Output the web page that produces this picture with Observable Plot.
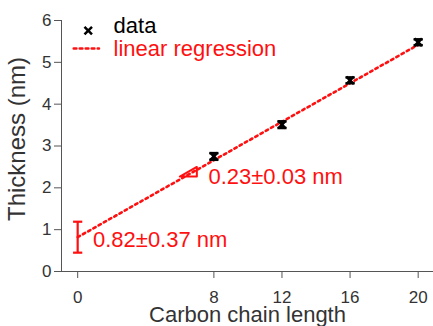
<!DOCTYPE html>
<html>
<head>
<meta charset="utf-8">
<script src="https://cdn.jsdelivr.net/npm/d3@7"></script>
<script src="https://cdn.jsdelivr.net/npm/@observablehq/plot@0.6"></script>
<style>
  html, body { margin: 0; padding: 0; background: white; }
</style>
</head>
<body>
<div id="chart"></div>
<script>
// Data
const chainLength = [8, 12, 16, 20];
const thickness = [2.75, 3.51, 4.57, 5.48];
const thicknessErr = [0.08, 0.08, 0.07, 0.07];

const regX = [0, 20];
const regY = [0.82, 5.42];

const interceptValue = 0.82;
const interceptErr = 0.37;

const xTicks = [0, 8, 12, 16, 20];
const yTicks = [0, 1, 2, 3, 4, 5, 6];

const slopeLabel = "0.23±0.03 nm";
const interceptLabel = "0.82±0.37 nm";
const legendLabels = ["data", "linear regression"];

// Annotation geometry (data coordinates)
const triX = [6, 7, 7, 6];
const triY = [2.27, 2.27, 2.50, 2.27];

const data = chainLength.map((x, i) => ({x, y: thickness[i], lo: thickness[i] - thicknessErr[i], hi: thickness[i] + thicknessErr[i]}));
const reg = regX.map((x, i) => ({x, y: regY[i]}));
const tri = triX.map((x, i) => ({x, y: triY[i]}));
const capW = 0.27;
const RED = "#ff1010";
const FONT = "'Liberation Sans', Arial, Helvetica, sans-serif";

const chart = Plot.plot({
  width: 433,
  height: 326,
  marginLeft: 61,
  marginRight: 0,
  marginTop: 20,
  marginBottom: 55,
  style: {fontFamily: FONT, background: "white", overflow: "visible"},
  x: {domain: [-0.95, 20.9]},
  y: {domain: [0, 6]},
  marks: [
    Plot.axisX({ticks: xTicks, tickFormat: d => String(d), tickSize: 7, tickPadding: 12, fontSize: 17, label: null, stroke: "#555", fill: "#333"}),
    Plot.axisY({ticks: yTicks, tickFormat: d => String(d), tickSize: 7, tickPadding: 3, fontSize: 17, label: null, stroke: "#555", fill: "#333"}),
    Plot.ruleY([0], {stroke: "#555", strokeWidth: 1}),
    Plot.ruleX([-0.95], {stroke: "#555", strokeWidth: 1}),
    // regression
    Plot.line(reg, {x: "x", y: "y", stroke: RED, strokeWidth: 2.6, strokeDasharray: "2.6,3.4"}),
    // intercept error bar
    Plot.ruleX([0], {y1: interceptValue - interceptErr, y2: interceptValue + interceptErr, stroke: RED, strokeWidth: 2.2}),
    Plot.link([interceptValue - interceptErr, interceptValue + interceptErr], {x1: -capW, x2: capW, y1: d => d, y2: d => d, stroke: RED, strokeWidth: 2.2}),
    // slope triangle
    Plot.line(tri, {x: "x", y: "y", stroke: RED, strokeWidth: 2}),
    // data error bars
    Plot.ruleX(data, {x: "x", y1: "lo", y2: "hi", stroke: "black", strokeWidth: 2.5}),
    Plot.link(data, {x1: d => d.x - capW, x2: d => d.x + capW, y1: "hi", y2: "hi", stroke: "black", strokeWidth: 2.5}),
    Plot.link(data, {x1: d => d.x - capW, x2: d => d.x + capW, y1: "lo", y2: "lo", stroke: "black", strokeWidth: 2.5}),
    Plot.dot(data, {x: "x", y: "y", symbol: "times", r: 3.5, stroke: "black", strokeWidth: 2.5}),
    // annotations
    Plot.text([slopeLabel], {x: 7.68, y: 2.27, text: d => d, textAnchor: "start", lineAnchor: "middle", fontSize: 22, fill: RED}),
    Plot.text([interceptLabel], {x: 0.9, y: 0.76, text: d => d, textAnchor: "start", lineAnchor: "middle", fontSize: 22, fill: RED}),
    // legend
    Plot.dot([0], {x: 0.62, y: 5.76, symbol: "times", r: 3.5, stroke: "black", strokeWidth: 2.5}),
    Plot.line([{x: -0.23, y: 5.33}, {x: 1.25, y: 5.33}], {x: "x", y: "y", stroke: RED, strokeWidth: 2.6, strokeDasharray: "2.6,3.4"}),
    Plot.text([legendLabels[0]], {x: 2.11, y: 5.86, text: d => d, textAnchor: "start", lineAnchor: "middle", fontSize: 22, fill: "black"}),
    Plot.text([legendLabels[1]], {x: 2.11, y: 5.31, text: d => d, textAnchor: "start", lineAnchor: "middle", fontSize: 22, fill: RED}),
    // axis labels
    Plot.text(["Carbon chain length"], {frameAnchor: "bottom", dy: 43, text: d => d, textAnchor: "middle", lineAnchor: "middle", fontSize: 22, fill: "#333"}),
    Plot.text(["Thickness (nm)"], {frameAnchor: "left", dx: -44, dy: -7, rotate: -90, text: d => d, textAnchor: "middle", lineAnchor: "middle", fontSize: 24, fill: "#333"})
  ]
});
document.getElementById("chart").appendChild(chart);
</script>
</body>
</html>
